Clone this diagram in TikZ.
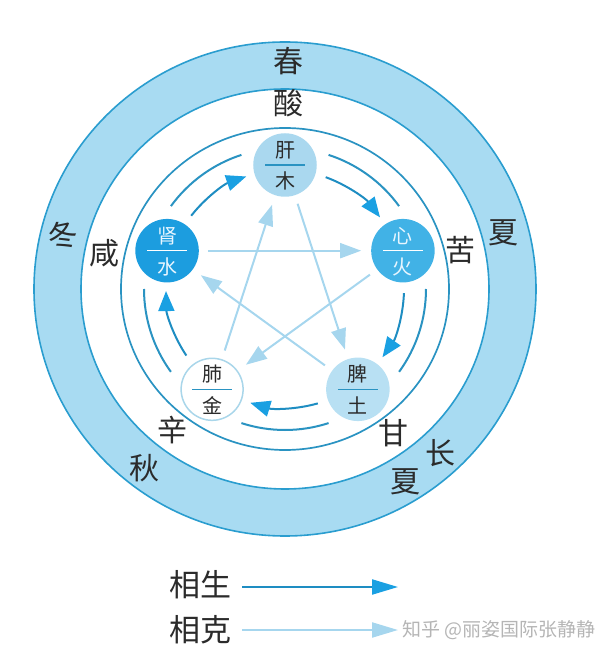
\documentclass[tikz,border=0pt]{standalone}
\usepackage{fontspec}
\newfontfamily\cjk{Noto Sans CJK SC}
\usetikzlibrary{arrows.meta}
\definecolor{band}{HTML}{A8DBF2}
\definecolor{bandedge}{HTML}{2A9DCF}
\definecolor{ring}{HTML}{2A93C2}
\definecolor{sheng}{HTML}{1E8DC2}
\definecolor{shenghead}{HTML}{1AA0E2}
\definecolor{kecol}{HTML}{A6D6EE}
\definecolor{ink}{HTML}{2B2B2B}
\definecolor{gancol}{HTML}{AAD8EF}
\definecolor{xincol}{HTML}{41B2E6}
\definecolor{shencol}{HTML}{1C9DDF}
\definecolor{picol}{HTML}{B8E0F3}
\definecolor{feiedge}{HTML}{A9D6EA}
\definecolor{lighttext}{HTML}{E8F6FF}
\definecolor{wm}{HTML}{B5B5B5}
\begin{document}
\begin{tikzpicture}[x=1pt,y=1pt,
  organ/.style={circle, minimum size=62pt, inner sep=0pt, line width=1.5pt},
  otext/.style={font=\cjk\fontsize{20}{20}\selectfont, inner sep=0pt},
  big/.style={font=\cjk\fontsize{30}{30}\selectfont, text=ink, inner sep=0pt},
  legendtext/.style={font=\cjk\fontsize{31}{31}\selectfont, text=ink, inner sep=0pt},
  shengarrow/.style={draw=sheng, line width=2pt, -{Triangle[length=20pt,width=16pt,color=shenghead]}},
  kearrow/.style={draw=kecol, line width=2pt, -{Triangle[length=21pt,width=15pt,color=kecol]}, shorten <=9pt, shorten >=10pt},
  ringline/.style={draw=ring, line width=1.7pt}
]
\useasboundingbox (-285,-374) rectangle (315,289);

% seasonal band
\fill[band, even odd rule] (0,0) ellipse [x radius=251, y radius=247] (0,0) ellipse [x radius=204, y radius=200];
\draw[bandedge, line width=1.6pt] (0,0) ellipse [x radius=251, y radius=247];
\draw[bandedge, line width=1.6pt] (0,0) ellipse [x radius=204, y radius=200];

% full thin circle
\draw[ringline] (0,0) ellipse [x radius=164, y radius=161];

% outer decorative arcs
\foreach \m in {54,-18,-90,-162,126}{
  \draw[ringline, line width=2pt] (\m+18:141) arc[start angle=\m+18, end angle=\m-18, radius=141];
}

% organs
\foreach \n/\a/\f/\d/\t/\l/\u/\b in {
  gan/90/gancol/gancol/ink/ring/肝/木,
  xin/18/xincol/xincol/lighttext/white/心/火,
  pi/-54/picol/picol/ink/ring/脾/土,
  fei/-126/white/feiedge/ink/ring/肺/金,
  shen/162/shencol/shencol/lighttext/white/肾/水}{
  \node[organ, fill=\f, draw=\d] (\n) at (\a:124) {};
  \node[otext, text=\t] (\n-t) at ([yshift=15pt]\n.center) {\u};
  \node[otext, text=\t] (\n-b) at ([yshift=-16pt]\n.center) {\b};
  \draw[draw=\l, line width=1.2pt] ([xshift=-20pt]\n.center) -- ([xshift=20pt]\n.center);
}

% sheng (generating) cycle arrows along the circle
\foreach \m/\k in {54/a,-18/b,-90/c,-162/d,126/e}{
  \coordinate (s\k) at (\m+16:119);
  \draw[shengarrow] (s\k) arc[start angle=\m+16, end angle=\m-17, radius=119];
}

% ke (controlling) star arrows
\draw[kearrow] (gan) -- (pi);
\draw[kearrow] (pi) -- (shen);
\draw[kearrow] (shen) -- (xin);
\draw[kearrow] (xin) -- (fei);
\draw[kearrow] (fei) -- (gan);

% seasons
\node[big] (chun) at (3,228) {春};
\node[big] (xia) at (218,56) {夏};
\node[big, rotate=12] (dong) at (-222,54) {冬};
\node[big] (qiu) at (-140,-179) {秋};
\node[big] (chang) at (155,-164) {长};
\node[big] (xia2) at (120,-193) {夏};

% tastes
\node[big] (suan) at (3,186) {酸};
\node[big] (ku) at (175,39) {苦};
\node[big] (xian) at (-180,36) {咸};
\node[big] (xinw) at (-112,-141) {辛};
\node[big] (gant) at (108,-144) {甘};

% legend
\node[legendtext] (lsheng) at (-84,-296) {相生};
\node[legendtext] (lke) at (-84,-341) {相克};
\coordinate (ls1) at (-43,-298);
\coordinate (ls2) at (113,-298);
\coordinate (lk1) at (-43,-341);
\coordinate (lk2) at (113,-341);
\draw[draw=sheng, line width=2.2pt, -{Triangle[length=26pt,width=15pt,color=shenghead]}] (ls1) -- (ls2);
\draw[draw=kecol, line width=2.2pt, -{Triangle[length=26pt,width=15pt,color=kecol]}] (lk1) -- (lk2);
\node[anchor=west, font=\cjk\fontsize{19}{19}\selectfont, text=wm, inner sep=0pt] (wmark) at (117,-341) {知乎 @丽姿国际张静静};
\end{tikzpicture}
\end{document}
